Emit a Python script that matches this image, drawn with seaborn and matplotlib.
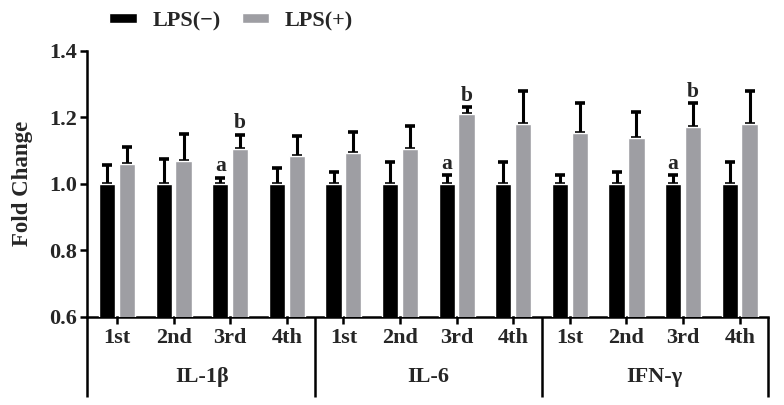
import numpy as np
import pandas as pd
import matplotlib
matplotlib.use("Agg")
import matplotlib.pyplot as plt
import matplotlib.transforms as mtransforms
import seaborn as sns

# ---- data ----
genes = ["IL-1\u03b2", "IL-6", "IFN-\u03b3"]
times = ["1st", "2nd", "3rd", "4th"]
groups = ["LPS(\u2212)", "LPS(+)"]

neg_mean = [1.0, 1.0, 1.0, 1.0, 1.0, 1.0, 1.0, 1.0, 1.0, 1.0, 1.0, 1.0]
neg_err = [0.055, 0.075, 0.017, 0.047, 0.035, 0.065, 0.025, 0.065, 0.025, 0.035, 0.025, 0.065]
pos_mean = [1.058, 1.068, 1.103, 1.082, 1.092, 1.103, 1.210, 1.180, 1.153, 1.136, 1.170, 1.180]
pos_err = [0.052, 0.080, 0.043, 0.062, 0.062, 0.072, 0.020, 0.100, 0.090, 0.080, 0.072, 0.100]

sig_index = [2, 6, 10]
sig_neg = "a"
sig_pos = "b"

# ---- frame ----
cats = [f"{g}|{t}" for g in genes for t in times]
df = pd.DataFrame({
    "cat": cats * 2,
    "group": [groups[0]] * len(cats) + [groups[1]] * len(cats),
    "value": neg_mean + pos_mean,
    "err": neg_err + pos_err,
})

sns.set_theme(style="ticks")
plt.rcParams["font.family"] = ["Liberation Serif", "DejaVu Serif"]
plt.rcParams["font.weight"] = "bold"

FS = 15.5

fig = plt.figure(figsize=(7.84, 4.05), dpi=100)
ax = fig.add_axes([87 / 784, 1 - 316.7 / 405, (768 - 87) / 784, (316.7 - 50.7) / 405])

palette = {groups[0]: "#000000", groups[1]: "#9e9ea3"}
sns.barplot(data=df, x="cat", y="value", hue="group", order=cats, hue_order=groups,
            palette=palette, errorbar=None, width=0.7, gap=0.18, saturation=1,
            ax=ax, legend=True, zorder=3)

# error bars (upper only), positioned from the bars seaborn drew
bars = [p for p in ax.patches if p.get_height() > 0][:2 * len(cats)]
for i, p in enumerate(bars):
    xc = p.get_x() + p.get_width() / 2
    top = p.get_y() + p.get_height()
    e = df["err"].iloc[i]
    ax.errorbar([xc], [top], yerr=[[0], [e]], fmt="none", ecolor="black",
                elinewidth=2.2, capsize=3.5, capthick=2.6, zorder=2)
    k = i % len(cats)
    if k in sig_index:
        lab = sig_neg if i < len(cats) else sig_pos
        ax.text(xc, top + e + 0.005, lab, ha="center", va="bottom",
                fontsize=FS, fontweight="bold")

ax.set_ylim(0.6, 1.4)
ax.set_xlim(-0.53, 11.5)
ax.set_yticks([0.6, 0.8, 1.0, 1.2, 1.4])
ax.set_yticklabels(["0.6", "0.8", "1.0", "1.2", "1.4"], fontsize=16, fontweight="bold")
ax.set_xticks(range(len(cats)))
ax.set_xticklabels(times * len(genes), fontsize=16, fontweight="bold")
ax.tick_params(axis="both", direction="out", length=5, width=1.8, color="black")
ax.tick_params(axis="x", pad=3)
ax.tick_params(axis="y", pad=2)
ax.set_xlabel("")
ax.set_ylabel("Fold Change", fontsize=16.5, fontweight="bold", labelpad=12)

sns.despine(ax=ax)
for s in ["left", "bottom"]:
    ax.spines[s].set_linewidth(1.8)
    ax.spines[s].set_color("black")
ax.spines["left"].set_bounds(0.6, 1.4)

# group brackets below x axis
trans = mtransforms.blended_transform_factory(ax.transData, ax.transAxes)
for xs in [-0.53, 3.5, 7.5, 11.5]:
    ax.plot([xs, xs], [0, -0.30], transform=trans, color="black", lw=1.8,
            clip_on=False, solid_capstyle="butt")
for gi, g in enumerate(genes):
    ax.text(gi * 4 + 1.5, -0.225, g, transform=trans, ha="center", va="center",
            fontsize=16, fontweight="bold")

# legend
handles, labels = ax.get_legend_handles_labels()
ax.legend(handles, labels, loc="center left", bbox_to_anchor=(109 / 784, 1 - 21 / 405),
          bbox_transform=fig.transFigure,
          ncol=2, frameon=False, handlelength=1.25, handleheight=0.3,
          columnspacing=0.95, handletextpad=0.7, borderaxespad=0, borderpad=0,
          prop={"weight": "bold", "size": 16})

fig.savefig("out.png", dpi=100)
